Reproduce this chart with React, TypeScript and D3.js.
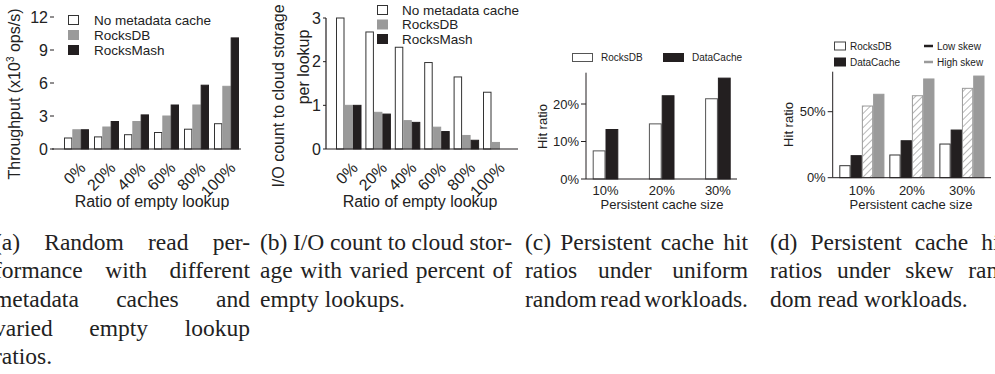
import React, { useEffect, useRef } from "react";
import * as d3 from "d3";

// ---------- DATA ----------
const emptyRatios = ["0%", "20%", "40%", "60%", "80%", "100%"];
const seriesA = ["No metadata cache", "RocksDB", "RocksMash"];
const tputNoCache = [1.0, 1.1, 1.3, 1.5, 1.8, 2.3];
const tputRocksDB = [1.75, 2.0, 2.5, 3.0, 4.0, 5.7];
const tputRocksMash = [1.75, 2.5, 3.1, 4.0, 5.8, 10.1];
const tputTicks = [0, 3, 6, 9, 12];

const ioNoCache = [3.0, 2.68, 2.33, 1.98, 1.65, 1.3];
const ioRocksDB = [1.0, 0.84, 0.65, 0.5, 0.31, 0.15];
const ioRocksMash = [1.0, 0.8, 0.61, 0.4, 0.2, 0];
const ioTicks = [0, 1, 2, 3];

const cacheSizes = ["10%", "20%", "30%"];
const seriesC = ["RocksDB", "DataCache"];
const uniformRocksDB = [7.5, 14.7, 21.4];
const uniformDataCache = [13.2, 22.2, 26.9];
const uniformTicks = [0, 10, 20];

const seriesD = ["lowRocksDB", "lowDataCache", "highRocksDB", "highDataCache"];
const skewLowRocksDB = [9.1, 17.2, 25.5];
const skewLowDataCache = [16.7, 28.0, 36.1];
const skewHighRocksDB = [54.3, 62.1, 67.7];
const skewHighDataCache = [63.2, 74.8, 77.0];
const skewTicks = [0, 50];

const captionA = ["(a) Random read per-", "formance with different", "metadata caches and", "varied empty lookup", "ratios."];
const captionB = ["(b) I/O count to cloud stor-", "age with varied percent of", "empty lookups."];
const captionC = ["(c) Persistent cache hit", "ratios under uniform", "random read workloads."];
const captionD = ["(d) Persistent cache hit", "ratios under skew ran-", "dom read workloads."];

// ---------- STYLE ----------
const SANS = "'Liberation Sans', Arial, Helvetica, sans-serif";
const SERIF = "'Liberation Serif', 'Times New Roman', serif";
const BLACK = "#231f20";
const GREY = "#9a9a9a";
const EDGE = "#333";

function Caption({ lines, x0, x1, justifyLast }: { lines: string[]; x0: number; x1: number; justifyLast: boolean }) {
  const ref = useRef<SVGGElement>(null);
  useEffect(() => {
    const g = d3.select(ref.current);
    g.selectAll("*").remove();
    const fs = 23.5;
    const lh = 28.7;
    const y0 = 249.5;
    const probe = g.append("text").attr("font-family", SERIF).attr("font-size", fs).text("a a");
    const aa = (probe.node() as SVGTextElement).getComputedTextLength();
    probe.text("aa");
    const spaceW = aa - (probe.node() as SVGTextElement).getComputedTextLength();
    probe.remove();
    lines.forEach((line, li) => {
      const words = line.split(" ");
      const els = words.map((w) =>
        g.append("text").attr("font-family", SERIF).attr("font-size", fs).attr("fill", "#222").attr("y", y0 + li * lh).text(w)
      );
      const widths = els.map((e) => (e.node() as SVGTextElement).getComputedTextLength());
      const total = d3.sum(widths);
      const isLast = li === lines.length - 1;
      const gap = (!isLast || justifyLast) && words.length > 1 ? (x1 - x0 - total) / (words.length - 1) : spaceW;
      let x = x0;
      els.forEach((e, i) => {
        e.attr("x", x);
        x += widths[i] + gap;
      });
    });
  }, [lines, x0, x1, justifyLast]);
  return <g ref={ref} />;
}

function YTicks({ ticks, y, axisX, fmt, fs, len }: { ticks: number[]; y: d3.ScaleLinear<number, number>; axisX: number; fmt: (v: number) => string; fs: number; len: number }) {
  return (
    <g>
      {ticks.map((t) => (
        <g key={t}>
          <line x1={axisX - len} x2={axisX} y1={y(t)} y2={y(t)} stroke={BLACK} strokeWidth={1} />
          <text x={axisX - len - 2} y={y(t)} dy="0.35em" textAnchor="end" fontSize={fs} fontFamily={SANS} fill="#222">
            {fmt(t)}
          </text>
        </g>
      ))}
    </g>
  );
}

export default function App() {
  // ---- Chart A ----
  const xA = d3.scaleBand().domain(emptyRatios).range([64, 239]).paddingInner(5 / 30);
  const sA = d3.scaleBand().domain(seriesA).range([0, xA.bandwidth()]);
  const yA = d3.scaleLinear().domain([0, 12]).range([149, 17]);
  const dataA = [tputNoCache, tputRocksDB, tputRocksMash];

  // ---- Chart B ----
  const xB = d3.scaleBand().domain(emptyRatios).range([336, 508.5]).paddingInner(3.9 / 29.4);
  const sB = d3.scaleBand().domain(seriesA).range([0, xB.bandwidth()]);
  const yB = d3.scaleLinear().domain([0, 3]).range([149, 18]);
  const dataB = [ioNoCache, ioRocksDB, ioRocksMash];

  const fills = ["#fff", GREY, BLACK];
  const strokes = [EDGE, GREY, BLACK];

  // ---- Chart C ----
  const xC = d3.scaleBand().domain(cacheSizes).range([592.7, 730.7]).paddingInner(30.6 / 56.2);
  const sC = d3.scaleBand().domain(seriesC).range([0, xC.bandwidth()]);
  const yC = d3.scaleLinear().domain([0, 10]).range([179, 141.5]);
  const dataC = [uniformRocksDB, uniformDataCache];

  // ---- Chart D ----
  const xD = d3.scaleBand().domain(cacheSizes).range([839.3, 984.5]).paddingInner(4.9 / 49.9);
  const sD = d3.scaleBand().domain(seriesD).range([0, xD.bandwidth()]);
  const yD = d3.scaleLinear().domain([0, 50]).range([177.7, 111.7]);
  const dataD = [skewLowRocksDB, skewLowDataCache, skewHighRocksDB, skewHighDataCache];
  const fillsD = ["#fff", BLACK, "url(#hatch)", GREY];
  const strokesD = [EDGE, BLACK, GREY, GREY];

  const rotLabels = (x: d3.ScaleBand<string>, yBase: number) =>
    emptyRatios.map((c) => (
      <text
        key={c}
        transform={`translate(${(x(c) as number) + x.bandwidth() / 2 + 10},${yBase}) rotate(-45)`}
        textAnchor="end"
        fontSize={16}
        fontFamily={SANS}
        fill="#222"
      >
        {c}
      </text>
    ));

  return (
    <svg width={995} height={374} style={{ position: "absolute", left: 0, top: 0, background: "#fff" }}>
      <defs>
        <pattern id="hatch" patternUnits="userSpaceOnUse" width={5} height={5} patternTransform="rotate(45)">
          <rect width={5} height={5} fill="#fff" />
          <line x1={0} y1={0} x2={0} y2={5} stroke={GREY} strokeWidth={1.4} />
        </pattern>
      </defs>
      <rect width={995} height={374} fill="#fff" />

      {/* ================= Chart A ================= */}
      <g>
        {dataA.map((vals, si) =>
          emptyRatios.map((c, i) => (
            <rect
              key={`a${si}${i}`}
              x={(xA(c) as number) + (sA(seriesA[si]) as number) + 0.5}
              y={yA(vals[i])}
              width={sA.bandwidth() - 1}
              height={yA(0) - yA(vals[i])}
              fill={fills[si]}
              stroke={strokes[si]}
              strokeWidth={1}
            />
          ))
        )}
        <line x1={52} x2={241} y1={yA(0)} y2={yA(0)} stroke={BLACK} strokeWidth={1.2} />
        <YTicks ticks={tputTicks} y={yA} axisX={54} fmt={(v) => String(v)} fs={16} len={4} />
        {rotLabels(xA, 169)}
        <text x={152} y={207} textAnchor="middle" fontSize={16} fontFamily={SANS} fill="#222">
          Ratio of empty lookup
        </text>
        <text transform="translate(14,94) rotate(-90)" textAnchor="middle" dy="0.35em" fontSize={16} fontFamily={SANS} fill="#222">
          Throughput (x10
          <tspan fontSize={10} dy="-6">3</tspan>
          <tspan dy="6"> ops/s)</tspan>
        </text>
        {seriesA.map((s, i) => {
          const cy = [20, 35, 50][i];
          return (
            <g key={s}>
              <rect x={68.5} y={cy - 4.5} width={10} height={9} fill={fills[i]} stroke={strokes[i]} strokeWidth={1} />
              <text x={94} y={cy} dy="0.35em" fontSize={13.5} fontFamily={SANS} fill="#222">
                {s}
              </text>
            </g>
          );
        })}
      </g>

      {/* ================= Chart B ================= */}
      <g>
        {dataB.map((vals, si) =>
          emptyRatios.map((c, i) =>
            vals[i] > 0 ? (
              <rect
                key={`b${si}${i}`}
                x={(xB(c) as number) + (sB(seriesA[si]) as number) + 0.5}
                y={yB(vals[i])}
                width={sB.bandwidth() - 1}
                height={yB(0) - yB(vals[i])}
                fill={fills[si]}
                stroke={strokes[si]}
                strokeWidth={1}
              />
            ) : null
          )
        )}
        <line x1={326} x2={326} y1={yB(3)} y2={yB(0)} stroke={BLACK} strokeWidth={1.2} />
        <line x1={326} x2={518} y1={yB(0)} y2={yB(0)} stroke={BLACK} strokeWidth={1.2} />
        <YTicks ticks={ioTicks} y={yB} axisX={326} fmt={(v) => String(v)} fs={16} len={3} />
        {rotLabels(xB, 169)}
        <text x={420} y={207} textAnchor="middle" fontSize={16} fontFamily={SANS} fill="#222">
          Ratio of empty lookup
        </text>
        <text transform="translate(278,96) rotate(-90)" textAnchor="middle" dy="0.35em" fontSize={16} fontFamily={SANS} fill="#222">
          I/O count to cloud storage
        </text>
        <text transform="translate(303,67) rotate(-90)" textAnchor="middle" dy="0.35em" fontSize={16} fontFamily={SANS} fill="#222">
          per lookup
        </text>
        {seriesA.map((s, i) => {
          const cy = [10, 24.5, 39][i];
          return (
            <g key={s}>
              <rect x={377.5} y={cy - 4.5} width={10} height={9} fill={fills[i]} stroke={strokes[i]} strokeWidth={1} />
              <text x={402} y={cy} dy="0.35em" fontSize={13.5} fontFamily={SANS} fill="#222">
                {s}
              </text>
            </g>
          );
        })}
      </g>

      {/* ================= Chart C ================= */}
      <g>
        {dataC.map((vals, si) =>
          cacheSizes.map((c, i) => (
            <rect
              key={`c${si}${i}`}
              x={(xC(c) as number) + (sC(seriesC[si]) as number) + 0.5}
              y={yC(vals[i])}
              width={sC.bandwidth() - 1}
              height={yC(0) - yC(vals[i])}
              fill={si === 0 ? "#fff" : BLACK}
              stroke={si === 0 ? "#555" : BLACK}
              strokeWidth={1}
            />
          ))
        )}
        <line x1={586} x2={586} y1={72.7} y2={yC(0)} stroke={BLACK} strokeWidth={1} />
        <line x1={586} x2={737} y1={yC(0)} y2={yC(0)} stroke={BLACK} strokeWidth={1} />
        <YTicks ticks={uniformTicks} y={yC} axisX={586} fmt={(v) => `${v}%`} fs={13} len={5} />
        {cacheSizes.map((c) => (
          <text key={c} x={(xC(c) as number) + xC.bandwidth() / 2} y={195} textAnchor="middle" fontSize={13} fontFamily={SANS} fill="#222">
            {c}
          </text>
        ))}
        <text x={662} y={209} textAnchor="middle" fontSize={13} fontFamily={SANS} fill="#222">
          Persistent cache size
        </text>
        <text transform="translate(542,126.5) rotate(-90)" textAnchor="middle" dy="0.35em" fontSize={13} fontFamily={SANS} fill="#222">
          Hit ratio
        </text>
        <rect x={572.5} y={53.5} width={20} height={8} fill="#fff" stroke="#555" strokeWidth={1} />
        <text x={601} y={57.5} dy="0.35em" fontSize={10} fontFamily={SANS} fill="#222">
          {seriesC[0]}
        </text>
        <rect x={663.5} y={53.5} width={20} height={8} fill={BLACK} stroke={BLACK} strokeWidth={1} />
        <text x={692} y={57.5} dy="0.35em" fontSize={10} fontFamily={SANS} fill="#222">
          {seriesC[1]}
        </text>
      </g>

      {/* ================= Chart D ================= */}
      <g>
        {dataD.map((vals, si) =>
          cacheSizes.map((c, i) => (
            <rect
              key={`d${si}${i}`}
              x={(xD(c) as number) + (sD(seriesD[si]) as number) + 0.5}
              y={yD(vals[i])}
              width={sD.bandwidth() - 1}
              height={yD(0) - yD(vals[i])}
              fill={fillsD[si]}
              stroke={strokesD[si]}
              strokeWidth={1}
            />
          ))
        )}
        <line x1={832.7} x2={832.7} y1={71.7} y2={yD(0)} stroke={BLACK} strokeWidth={1} />
        <line x1={832.7} x2={991} y1={yD(0)} y2={yD(0)} stroke={BLACK} strokeWidth={1} />
        <YTicks ticks={skewTicks} y={yD} axisX={832.7} fmt={(v) => `${v}%`} fs={13} len={5} />
        {cacheSizes.map((c) => (
          <text key={c} x={(xD(c) as number) + xD.bandwidth() / 2} y={195} textAnchor="middle" fontSize={13} fontFamily={SANS} fill="#222">
            {c}
          </text>
        ))}
        <text x={911} y={209} textAnchor="middle" fontSize={13} fontFamily={SANS} fill="#222">
          Persistent cache size
        </text>
        <text transform="translate(788,124.5) rotate(-90)" textAnchor="middle" dy="0.35em" fontSize={13} fontFamily={SANS} fill="#222">
          Hit ratio
        </text>
        <rect x={834.5} y={42} width={11} height={8} fill="#fff" stroke="#444" strokeWidth={1} />
        <text x={850} y={46} dy="0.35em" fontSize={10} fontFamily={SANS} fill="#222">RocksDB</text>
        <rect x={834.5} y={58} width={11} height={8} fill={BLACK} stroke={BLACK} strokeWidth={1} />
        <text x={850} y={62} dy="0.35em" fontSize={10} fontFamily={SANS} fill="#222">DataCache</text>
        <line x1={924} x2={933} y1={46} y2={46} stroke={BLACK} strokeWidth={2.5} />
        <text x={937} y={46} dy="0.35em" fontSize={10} fontFamily={SANS} fill="#222">Low skew</text>
        <line x1={924} x2={933} y1={62} y2={62} stroke={GREY} strokeWidth={2.5} />
        <text x={937} y={62} dy="0.35em" fontSize={10} fontFamily={SANS} fill="#222">High skew</text>
      </g>

      {/* ================= Captions ================= */}
      <Caption lines={captionA} x0={-6} x1={250} justifyLast={false} />
      <Caption lines={captionB} x0={260} x1={512} justifyLast={false} />
      <Caption lines={captionC} x0={525} x1={748} justifyLast={true} />
      <Caption lines={captionD} x0={770} x1={1006} justifyLast={false} />
    </svg>
  );
}
